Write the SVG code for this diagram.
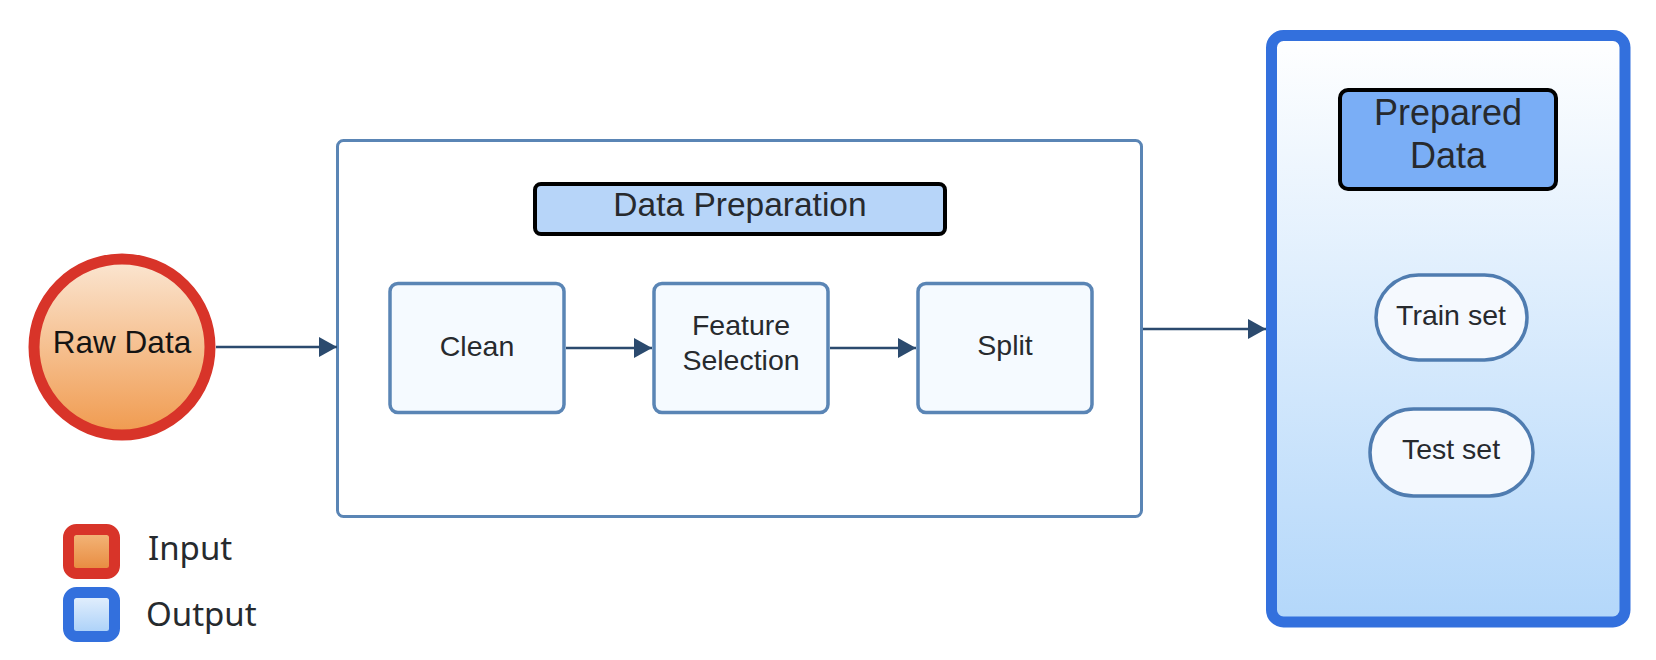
<svg xmlns="http://www.w3.org/2000/svg" width="1656" height="660" viewBox="0 0 1656 660">
  <defs>
    <linearGradient id="gRaw" x1="0" y1="0" x2="0" y2="1">
      <stop offset="0" stop-color="#fbe6d2"/>
      <stop offset="1" stop-color="#f09a4e"/>
    </linearGradient>
    <linearGradient id="gIn" x1="0" y1="0" x2="0" y2="1">
      <stop offset="0" stop-color="#f4b97e"/>
      <stop offset="1" stop-color="#e7873a"/>
    </linearGradient>
    <linearGradient id="gOut" x1="0" y1="0" x2="0" y2="1">
      <stop offset="0" stop-color="#e8f2fd"/>
      <stop offset="1" stop-color="#a6cef8"/>
    </linearGradient>
    <linearGradient id="gPrep" x1="0" y1="0" x2="0" y2="1">
      <stop offset="0" stop-color="#ffffff"/>
      <stop offset="1" stop-color="#b3d7fa"/>
    </linearGradient>
    <marker id="ah" markerUnits="userSpaceOnUse" markerWidth="18" markerHeight="20" refX="18" refY="10" orient="auto">
      <path d="M0,0 L18,10 L0,20 Z" fill="#2b4a6e"/>
    </marker>
  </defs>
  <style>
    .lbl { font-family: "Liberation Sans", Arial, sans-serif; fill: #272a2e; text-anchor: middle; }
    .step { fill: #f5faff; stroke: #5a85b5; stroke-width: 3.5; }
    .pill { fill: #f5f9fe; stroke: #4f7cb0; stroke-width: 3.5; }
    .conn { stroke: #2b4a6e; stroke-width: 2.5; fill: none; marker-end: url(#ah); }
    .leg { font-family: "Noto Sans", "Open Sans", sans-serif; fill: #262a2e; font-size: 33px; }
  </style>
  <rect width="1656" height="660" fill="#ffffff"/>

  <g id="prepared-container">
    <rect x="1271.5" y="35.5" width="353.5" height="586.5" rx="12" fill="url(#gPrep)" stroke="#3370dd" stroke-width="11"/>
  </g>
  <g id="prepared-data">
    <rect x="1340" y="90" width="216" height="99" rx="8" fill="#7aaef6" stroke="#000" stroke-width="4"/>
    <text class="lbl" x="1448" y="125" font-size="36">Prepared</text>
    <text class="lbl" x="1448" y="168" font-size="36">Data</text>
  </g>
  <g id="train-set">
    <rect class="pill" x="1376" y="275" width="151" height="85" rx="42.5"/>
    <text class="lbl" x="1451" y="325" font-size="28.5">Train set</text>
  </g>
  <g id="test-set">
    <rect class="pill" x="1370" y="409" width="163" height="87" rx="43.5"/>
    <text class="lbl" x="1451" y="459" font-size="28.5">Test set</text>
  </g>

  <g id="data-preparation-container">
    <rect x="337.5" y="140.5" width="804" height="376" rx="6" fill="#ffffff" stroke="#5a85b5" stroke-width="3"/>
  </g>
  <g id="data-preparation-title">
    <rect x="535" y="184" width="410" height="50" rx="6" fill="#b7d5f9" stroke="#000" stroke-width="4"/>
    <text class="lbl" x="740" y="216" font-size="33.5">Data Preparation</text>
  </g>
  <g id="clean">
    <rect class="step" x="390" y="283.5" width="174" height="129" rx="8"/>
    <text class="lbl" x="477" y="356" font-size="28.5">Clean</text>
  </g>
  <g id="feature-selection">
    <rect class="step" x="654" y="283.5" width="174" height="129" rx="8"/>
    <text class="lbl" x="741" y="335" font-size="28.5">Feature</text>
    <text class="lbl" x="741" y="370" font-size="28.5">Selection</text>
  </g>
  <g id="split">
    <rect class="step" x="918" y="283.5" width="174" height="129" rx="8"/>
    <text class="lbl" x="1005" y="355" font-size="28.5">Split</text>
  </g>

  <g id="raw-data">
    <circle cx="122" cy="347" r="88" fill="url(#gRaw)" stroke="#d83429" stroke-width="11"/>
    <text class="lbl" x="122" y="353" font-size="31.5" style="fill:#141414">Raw Data</text>
  </g>

  <g id="connectors">
    <path class="conn" d="M216,347 H337"/>
    <path class="conn" d="M566,348 H652"/>
    <path class="conn" d="M830,348 H916"/>
    <path class="conn" d="M1143,329 H1266"/>
  </g>

  <g id="legend">
    <rect x="68.5" y="529.5" width="46" height="44" rx="8" fill="url(#gIn)" stroke="#d83429" stroke-width="11"/>
    <text class="leg" x="148" y="560">Input</text>
    <rect x="68.5" y="592.5" width="46" height="44" rx="8" fill="url(#gOut)" stroke="#3370dd" stroke-width="11"/>
    <text class="leg" x="146" y="626">Output</text>
  </g>
</svg>
